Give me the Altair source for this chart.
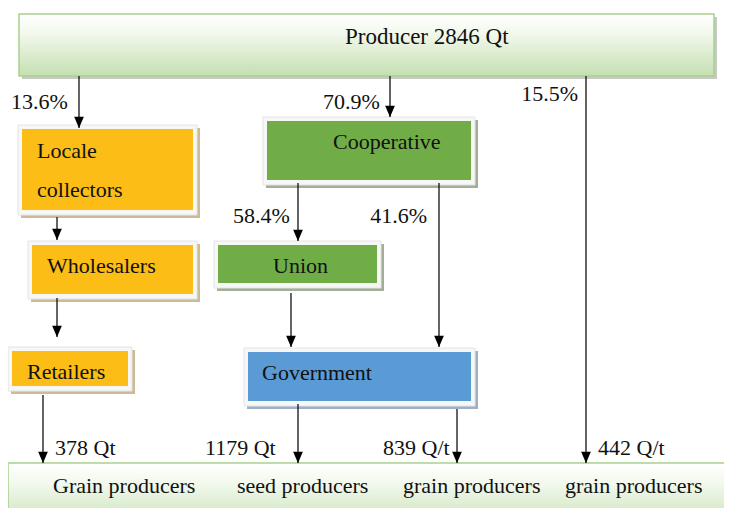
import altair as alt
import pandas as pd

# ---------------- data ----------------
producer_total = 2846
share_labels = ["13.6%", "70.9%", "15.5%", "58.4%", "41.6%"]
quantities = [378, 1179, 839, 442]
quantity_units = ["Qt", "Qt", "Q/t", "Q/t"]
end_users = ["Grain producers", "seed producers", "grain producers", "grain producers"]
actors = ["Locale", "Wholesalers", "Retailers", "Cooperative", "Union", "Government"]
actor_colors = ["#fbbd16", "#fbbd16", "#fbbd16", "#70ad47", "#70ad47", "#5b9bd5"]
actor_shadow = ["#cbbd91", "#cbbd91", "#cbbd91", "#a3ae98", "#a3ae98", "#9fb0c4"]

# ---------------- layout (diagram geometry, image pixel coords) ----------------
box_x0 = [22, 32, 12, 267, 218, 248]
box_x1 = [193, 193, 128, 471, 377, 471]
box_y0 = [129, 245, 351, 121, 245, 352]
box_y1 = [210, 294, 386, 180, 283, 401]

actor_tx = [37, 47, 27, 333, 273, 262]
actor_ty = [158, 273, 379, 149, 273, 380]

band_x0 = [19, 8]
band_x1 = [714, 740]
band_y0 = [14, 463]
band_y1 = [76, 530]

share_x = [11, 323, 578, 233, 427]
share_y = [109, 109, 101, 223, 223]
share_align = ["left", "left", "right", "left", "right"]

qty_x = [55, 205, 383, 598]
qty_y = [455, 455, 455, 455]
user_x = [53, 237, 403, 565]
user_y = [493, 493, 493, 493]

arrow_x = [79, 390, 586, 57, 57, 43, 298, 439, 291, 298, 457]
arrow_y0 = [76, 76, 76, 217, 298, 395, 183, 183, 293, 404, 409]
arrow_y1 = [128, 117, 463, 240, 337, 463, 241, 347, 347, 463, 463]

FONT = "Liberation Serif"
W, H = 716, 500
X = dict(scale=alt.Scale(domain=[8, 8 + W]), axis=None)
Y = dict(scale=alt.Scale(domain=[8, 8 + H], reverse=True), axis=None)

# ---------------- tables ----------------
boxes = pd.DataFrame({
    "name": actors, "fill": actor_colors, "shadow": actor_shadow,
    "x0": box_x0, "x1": box_x1, "y0": box_y0, "y1": box_y1,
})
boxes["fx0"] = boxes.x0 - 4
boxes["fx1"] = boxes.x1 + 4
boxes["fy0"] = boxes.y0 - 4
boxes["fy1"] = boxes.y1 + 5
boxes["sx0"] = boxes.fx0 + 3
boxes["sx1"] = boxes.fx1 + 3
boxes["sy0"] = boxes.fy0 + 3
boxes["sy1"] = boxes.fy1 + 3

bands = pd.DataFrame({"x0": band_x0, "x1": band_x1, "y0": band_y0, "y1": band_y1})
bands["sx0"] = bands.x0 + 3
bands["sx1"] = bands.x1 + 3
bands["sy0"] = bands.y0 + 3
bands["sy1"] = bands.y1 + 3

actor_text = pd.DataFrame({"label": actors, "x": actor_tx, "y": actor_ty})
actor_text.loc[len(actor_text)] = ["collectors", 37, 197]

shares = pd.DataFrame({"label": share_labels, "x": share_x, "y": share_y, "align": share_align})
qty = pd.DataFrame({
    "label": [f"{q} {u}" for q, u in zip(quantities, quantity_units)],
    "x": qty_x, "y": qty_y,
})
users = pd.DataFrame({"label": end_users, "x": user_x, "y": user_y})
title = pd.DataFrame({"label": [f"Producer {producer_total} Qt"], "x": [345], "y": [44]})
arrows = pd.DataFrame({"x": arrow_x, "y0": arrow_y0, "y1": arrow_y1})

green_grad = alt.Gradient(
    gradient="linear",
    stops=[
        alt.GradientStop(color="#ffffff", offset=0),
        alt.GradientStop(color="#f3f9ee", offset=0.3),
        alt.GradientStop(color="#c4dfb1", offset=1),
    ],
    x1=0, x2=0, y1=0, y2=1,
)

# ---------------- layers ----------------
band_shadow = alt.Chart(bands).mark_rect(color="#c8c8c8").encode(
    x=alt.X("sx0:Q", **X), x2="sx1:Q", y=alt.Y("sy0:Q", **Y), y2="sy1:Q")
band_fill = alt.Chart(bands).mark_rect(fill=green_grad, stroke="#a9d18e", strokeWidth=1.5).encode(
    x=alt.X("x0:Q", **X), x2="x1:Q", y=alt.Y("y0:Q", **Y), y2="y1:Q")

box_shadow = alt.Chart(boxes).mark_rect().encode(
    x=alt.X("sx0:Q", **X), x2="sx1:Q", y=alt.Y("sy0:Q", **Y), y2="sy1:Q",
    color=alt.Color("shadow:N", scale=None))
box_frame = alt.Chart(boxes).mark_rect(color="#f7f7f7", stroke="#e4e4e4", strokeWidth=1).encode(
    x=alt.X("fx0:Q", **X), x2="fx1:Q", y=alt.Y("fy0:Q", **Y), y2="fy1:Q")
box_fill = alt.Chart(boxes).mark_rect().encode(
    x=alt.X("x0:Q", **X), x2="x1:Q", y=alt.Y("y0:Q", **Y), y2="y1:Q",
    color=alt.Color("fill:N", scale=None))

arrow_lines = alt.Chart(arrows).mark_rule(color="#111111", strokeWidth=1.3).encode(
    x=alt.X("x:Q", **X), y=alt.Y("y0:Q", **Y), y2="y1:Q")
arrow_heads = alt.Chart(arrows).mark_point(
    shape="M-0.5,-1.15L0.5,-1.15L0,0Z", filled=True, size=380, color="#000000", opacity=1
).encode(x=alt.X("x:Q", **X), y=alt.Y("y1:Q", **Y))


def text_layer(df, size=22, align="left"):
    return alt.Chart(df).mark_text(
        font=FONT, fontSize=size, align=align, baseline="alphabetic", color="#111111"
    ).encode(x=alt.X("x:Q", **X), y=alt.Y("y:Q", **Y), text="label:N")


share_left = text_layer(shares[shares["align"] == "left"])
share_right = text_layer(shares[shares["align"] == "right"], align="right")

chart = alt.layer(
    band_shadow, band_fill,
    box_shadow, box_frame, box_fill,
    arrow_lines, arrow_heads,
    text_layer(title, size=23),
    text_layer(actor_text),
    share_left, share_right,
    text_layer(qty),
    text_layer(users),
).properties(
    width=W, height=H, padding=0, autosize=alt.AutoSizeParams(type="none")
).configure_view(stroke=None)

chart.save("out.html", embed_options={"renderer": "svg", "actions": False})
